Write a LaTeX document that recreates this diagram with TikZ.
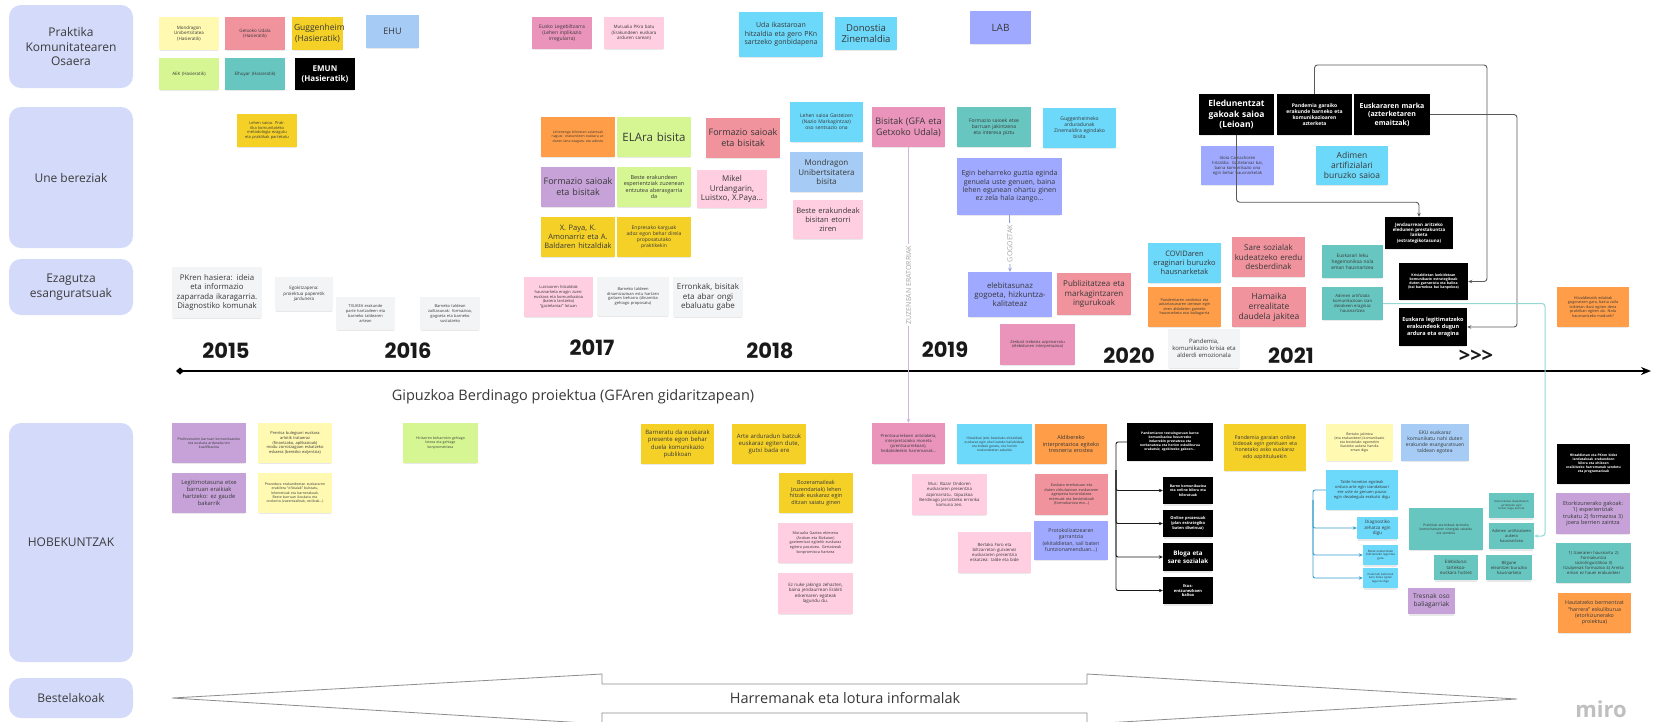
\documentclass[tikz,border=0pt]{standalone}
\usepackage{fontspec}
\setmainfont{Open Sans}
\newfontfamily\yearfont{Poppins}
\usetikzlibrary{shadows,arrows.meta}

\newcommand{\fs}[1]{\fontsize{#1pt}{\dimexpr#1pt*6/5\relax}\selectfont}

\definecolor{lanebg}{HTML}{D4DAFA}
\definecolor{lanetext}{HTML}{3C3C3C}
\definecolor{notetext}{HTML}{383838}
\definecolor{cLY}{HTML}{FFF9B1}
\definecolor{cY}{HTML}{F5D128}
\definecolor{cOr}{HTML}{FF9D48}
\definecolor{cLG}{HTML}{D5F692}
\definecolor{cTe}{HTML}{67C6C0}
\definecolor{cCy}{HTML}{6CD8FA}
\definecolor{cLB}{HTML}{A6CCF5}
\definecolor{cBl}{HTML}{9EA9FF}
\definecolor{cVi}{HTML}{C6A2D8}
\definecolor{cLP}{HTML}{FFCEE0}
\definecolor{cPk}{HTML}{EA94BB}
\definecolor{cRd}{HTML}{F0939D}
\definecolor{cGr}{HTML}{F3F4F6}

\begin{document}
\begin{tikzpicture}[x=1pt,y=-1pt,
    note/.style={inner sep=1pt,align=center,text=notetext,
        drop shadow={opacity=.18,shadow xshift=0pt,shadow yshift=-2pt,shadow scale=.97}},
    sz/.style n args={3}{minimum width=#1,minimum height=#2,text width=#1-4,font=\fs{#3}},
    blk/.style={note,fill=black,text=white,execute at begin node=\bfseries},
    lane/.style={fill=lanebg,rounded corners=12pt,text=lanetext,align=center,
        font=\fs{12},minimum width=124},
    year/.style={font=\yearfont\bfseries\fs{21},text=black!90},
    vlab/.style={fill=white,rotate=90,inner sep=1.5pt,font=\fs{7},text=black!35},
    gconn/.style={draw=black!65,line width=.9pt,rounded corners=3pt,-{Stealth[length=4pt,width=3.5pt]}},
    bconn/.style={draw=black!90,line width=.9pt,rounded corners=2pt,-{Stealth[length=4pt,width=3.5pt]}},
    blconn/.style={draw=blue!30!cyan!60!gray,line width=.9pt,rounded corners=2pt,-{Stealth[length=4pt,width=3.5pt]}},
    tconn/.style={draw=cTe!70,line width=1pt,rounded corners=3pt,-{Stealth[length=4pt,width=3.5pt]}}]

    \fill[white] (0,0) rectangle (1654,721);
    \useasboundingbox (0,0) rectangle (1654,721);

    % Lanes
    \node[lane,minimum height=83] (l1) at (71,46.5) {Praktika\\Komunitatearen\\Osaera};
    \node[lane,minimum height=141] (l2) at (71,177.5) {Une bereziak};
    \node[lane,minimum height=56] (l3) at (71,287) {Ezagutza\\esanguratsuak};
    \node[lane,minimum height=239] (l4) at (71,542.5) {HOBEKUNTZAK};
    \node[lane,minimum height=40] (l5) at (71,698) {Bestelakoak};

    % Timeline
    \coordinate (t0) at (176,371);
    \coordinate (t1) at (1651,371);
    \draw[line width=1.6pt,{Diamond[length=8pt,width=7pt]}-{Stealth[length=10pt,width=8pt]}] (t0) -- (t1);
    \node[year] (y15) at (226,351) {2015};
    \node[year] (y16) at (408,351) {2016};
    \node[year] (y17) at (592,348) {2017};
    \node[year] (y18) at (770,351) {2018};
    \node[year] (y19) at (945,350) {2019};
    \node[year] (y20) at (1129,356) {2020};
    \node[year] (y21) at (1291,356) {2021};
    \node[year,font=\bfseries\fs{20}] (ymore) at (1476,356) {>{}>{}>};
    \node[font=\fs{14.5},text=notetext] (gb) at (573,397) {Gipuzkoa Berdinago proiektua (GFAren gidaritzapean)};

    % Praktika komunitatearen osaera
    \node[note,fill=cLY,sz={60}{33}{4.5}] (n1) at (189,33.5) {Mondragon\\Unibertsitatea\\(Hasieratik)};
    \node[note,fill=cRd,sz={60}{33}{4.5}] (n2) at (255,33.5) {Getxoko Udala\\(Hasieratik)};
    \node[note,fill=cY,sz={51}{33}{8.5}] (n3) at (317.5,33.5) {Guggenheim\\(Hasieratik)};
    \node[note,fill=cLB,sz={53}{33}{9}] (n4) at (392.5,31.5) {EHU};
    \node[note,fill=cLG,sz={60}{32}{4.5}] (n5) at (189,74) {AEK (Hasieratik)};
    \node[note,fill=cTe,sz={60}{32}{4.5}] (n6) at (255,74) {Elhuyar (Hasieratik)};
    \node[blk,sz={60}{32}{8}] (n7) at (325,74) {EMUN\\(Hasieratik)};
    \node[note,fill=cPk,sz={60}{32}{5}] (n8) at (562,33) {Eusko Legebiltzarra\\(Lehen inplikazio\\irregularra)};
    \node[note,fill=cLP,sz={60}{32}{4.5}] (n9) at (634,33) {Mutualia PKra batu\\(Erakundeen euskara\\arduren sarean)};
    \node[note,fill=cCy,sz={84}{45}{7}] (n10) at (781,34.5) {Uda ikastaroan\\hitzaldia eta gero PKn\\sartzeko gonbidapena};
    \node[note,fill=cCy,sz={62}{33}{9.5}] (n11) at (866,33.5) {Donostia\\Zinemaldia};
    \node[note,fill=cBl,sz={61}{33}{10}] (n12) at (1000.5,27.5) {LAB};

    % Une bereziak
    \node[note,fill=cY,sz={60}{33}{4}] (n13) at (267,130.5) {Lehen saioa. Praktika komunitateko metodologia ezagutu eta praktikak partekatu};
    \node[note,fill=cOr,sz={74}{40}{3.5}] (n14) at (578,137) {Lehenengo bileretan zalantzak nagusi: erakundeen euskara arduren lana ezagutu eta adostu};
    \node[note,fill=cLG,sz={74}{40}{11.5}] (n15) at (654,137) {ELAra bisita};
    \node[note,fill=cRd,sz={74}{40}{9}] (n16) at (743,138) {Formazio saioak\\eta bisitak};
    \node[note,fill=cVi,sz={74}{40}{9}] (n17) at (578,187) {Formazio saioak\\eta bisitak};
    \node[note,fill=cLG,sz={74}{40}{5.5}] (n18) at (654,187) {Beste erakundeen\\esperientziak zuzenean\\entzutea aberasgarria\\da};
    \node[note,fill=cLP,sz={70}{38}{8}] (n19) at (732,189) {Mikel\\Urdangarin,\\Luistxo, X.Paya...};
    \node[note,fill=cY,sz={74}{40}{7.5}] (n20) at (578,237) {X. Paya, K.\\Amonarriz eta A.\\Baldaren hitzaldiak};
    \node[note,fill=cY,sz={74}{40}{5}] (n21) at (654,237) {Enpresako karguak\\adoz egon behar direla\\proposatutako\\praktikekin};
    \node[note,fill=cCy,sz={73}{40}{5}] (n22) at (826.5,122) {Lehen saioa Gasteizen\\(Nazio Markagintzaz)\\oso sentsazio ona};
    \node[note,fill=cLB,sz={73}{40}{8}] (n23) at (826.5,172) {Mondragon\\Unibertsitatera\\bisita};
    \node[note,fill=cLP,sz={70}{39}{7.5}] (n24) at (828,219.5) {Beste erakundeak\\bisitan etorri\\ziren};
    \node[note,fill=cPk,sz={73}{40}{9}] (n25) at (908.5,127) {Bisitak (GFA eta\\Getxoko Udala)};
    \node[note,fill=cTe,sz={74}{40}{5}] (n26) at (994,127) {Formazio saioek etxe\\barruan jakintzena\\eta interesa piztu};
    \node[note,fill=cCy,sz={73}{40}{5}] (n27) at (1079.5,128) {Guggenheimeko\\arduradunak\\Zinemaldira egindako\\bisita};
    \node[note,fill=cBl,sz={105}{57}{7}] (n28) at (1009.5,186.5) {Egin beharreko guztia eginda\\genuela uste genuen, baina\\lehen egunean ohartu ginen\\ez zela hala izango...};
    \node[blk,sz={75}{41}{8.5}] (n29) at (1236.5,114.5) {Eledunentzat\\gakoak saioa\\(Leioan)};
    \node[blk,sz={75}{41}{5}] (n30) at (1314.5,114.5) {Pandemia garaiko\\erakunde barneko eta\\komunikazioaren\\azterketa};
    \node[blk,sz={76}{41}{7}] (n31) at (1392,114.5) {Euskararen marka\\(azterketaren\\emaitzak)};
    \node[note,fill=cBl,sz={73}{39}{4.2}] (n32) at (1237.5,165.5) {Idoia Camachoren\\hitzaldia. Gaztelaniaz bai,\\baina komunikazio ona\\egin behar hausnarketak};
    \node[note,fill=cCy,sz={72}{39}{8.5}] (n33) at (1352,165.5) {Adimen\\artifizialari\\buruzko saioa};
    \node[blk,sz={68}{32}{4.5}] (n34) at (1419,233) {Jendaurrean aritzeko\\eledunen prestakuntza\\lanketa\\(estrategikotasuna)};
    \node[blk,sz={69}{37}{3.5}] (n35) at (1433.5,281.5) {Krisialdietan lankidetzan\\komunikazio estrategikoak\\duten garrantzia eta balioa\\(bai barnekoa bai kanpokoa)};
    \node[blk,sz={68}{38}{5.5}] (n36) at (1433,327) {Euskara legitimatzeko\\erakundeok dugun\\ardura eta eragina};

    % Ezagutza esanguratsuak
    \node[note,fill=cGr,sz={90}{51}{7.8}] (n37) at (217,292.5) {PKren hasiera: ideia\\eta informazio\\zaparrada ikaragarria.\\Diagnostiko komunak};
    \node[note,fill=cGr,sz={58}{34}{4.5}] (n38) at (304,294) {Egokitzapena:\\proiektua paperetik\\jardunera};
    \node[note,fill=cGr,sz={59}{33}{4}] (n39) at (365.5,313.5) {TXUKEA erakunde\\parte hartzaileen eta\\barneko taldearen\\artean};
    \node[note,fill=cGr,sz={60}{33}{4}] (n40) at (450,313.5) {Barneko taldean\\zailtasunak: formazioa,\\gogoeta eta barneko\\sustatzeko};
    \node[note,fill=cLP,sz={69}{40}{4}] (n41) at (558.5,297) {Luistxoren hitzaldiak\\hausnarketa eragin zuen:\\euskara eta komunikazioa\\(batera lantzeko)\\"gaztelaniaz" lotuan};
    \node[note,fill=cGr,sz={72}{39}{4}] (n42) at (633,296.5) {Barneko taldeen\\dinamizazioan estu hartzen\\gaituen beharra (dinamika\\gehiago proposatu)};
    \node[note,fill=cGr,sz={70}{40}{8}] (n43) at (708,297) {Erronkak, bisitak\\eta abar ongi\\ebaluatu gabe};
    \node[note,fill=cBl,sz={84}{45}{7.8}] (n46) at (1010,294.5) {elebitasunaz\\gogoeta, hizkuntza-\\kalitateaz};
    \node[note,fill=cRd,sz={74}{42}{8}] (n47) at (1094,294) {Publizitatzea eta\\markagintzaren\\ingurukoak};
    \node[note,fill=cPk,sz={75}{41}{4}] (n48) at (1037.5,344.5) {Zenbait trebezia azpimarratu\\(elebidunen interpretazioa)};
    \node[note,fill=cCy,sz={73}{40}{7.5}] (n49) at (1184.5,263) {COVIDaren\\eraginari buruzko\\hausnarketak};
    \node[note,fill=cOr,sz={73}{40}{3.8}] (n50) at (1184.5,307) {Pandemiaren ondorioz eta\\azkartasunaren izenean egin\\ziren aldaketen gaineko\\hausnarketa oso baliagarria};
    \node[note,fill=cGr,sz={72}{39}{6}] (n51) at (1204,348.5) {Pandemia,\\komunikazio krisia eta\\alderdi emozionala};
    \node[note,fill=cRd,sz={73}{40}{8}] (n52) at (1268.5,257) {Sare sozialak\\kudeatzeko eredu\\desberdinak};
    \node[note,fill=cRd,sz={74}{40}{8.5}] (n53) at (1269,307) {Hamaika\\errealitate\\daudela jakitea};
    \node[note,fill=cTe,sz={61}{33}{4.8}] (n54) at (1352.5,261.5) {Euskarari leku\\hegemonikoa nola\\eman hausnartzea};
    \node[note,fill=cTe,sz={61}{33}{4.2}] (n55) at (1352.5,303.5) {Adimen artifiziala\\komunikazioan izan\\dezakeen eraginaz\\hausnartzea};
    \node[note,fill=cOr,sz={72}{40}{3.8}] (n56) at (1593,307) {Hitzaldietatik edukiak\\gogoratzen gara, baina zaila\\txikietan ikusi egiten dena\\praktikan egiten da. Nola\\hausnartzeko modurik?};

    % Hobekuntzak
    \node[note,fill=cVi,sz={74}{40}{3.5}] (n57) at (209,443) {Profesionalen barruan komunikazioko\\eta euskara arduradunen\\kualifikazioa};
    \node[note,fill=cLY,sz={74}{40}{4}] (n58) at (295,443) {Prentsa bulegoari euskara\\arlotik trataeraz\\(finantzako, aplikazioak)\\modu zorrotzagoan eskatzeko\\eskaera (berezko exijentzia)};
    \node[note,fill=cVi,sz={74}{40}{5.8}] (n59) at (209,493) {Legitimotasuna etxe\\barruan eraikiak\\hartzeko: ez gaude\\bakarrik};
    \node[note,fill=cLY,sz={74}{40}{3.5}] (n60) at (295,493) {Prozedura erakundeetan euskararen\\erabilera "ofizialak" bultzatu,\\lehenetsiak eta barnerakoak.\\Beste barruan ikuskatu eta\\orokortu (zuzentzaileak, estiloak...)};
    \node[note,fill=cLG,sz={75}{40}{3.5}] (n61) at (440.5,443) {Hiritarren beharrekin gehiago\\lotzea eta gehiago\\konprometitzea};
    \node[note,fill=cY,sz={73}{40}{6}] (n62) at (677.5,444) {Barneratu da euskarak\\presente egon behar\\duela komunikazio\\publikoan};
    \node[note,fill=cY,sz={74}{40}{6}] (n63) at (769,444) {Arte arduradun batzuk\\euskaraz egiten dute,\\gutxi bada ere};
    \node[note,fill=cY,sz={74}{40}{5.5}] (n64) at (816,493) {Bozeramaileak\\(zuzendariak) lehen\\hitzak euskaraz egin\\ditzan saiatu ginen};
    \node[note,fill=cLP,sz={75}{40}{3.8}] (n65) at (815.5,543) {Mutualia Gaztea ekimena\\(Araban eta Bizkaian)\\gazteentzat egitetik euskaraz\\egitera pasatzea. Gertatzeak\\konpromisoa hartzea};
    \node[note,fill=cLP,sz={75}{41}{4.5}] (n66) at (815.5,593.5) {Ez nuke jakingo zehazten,\\baina jendaurrean Erakiti\\eskemaren egoteak\\lagundu du.};
    \node[note,fill=cPk,sz={73}{41}{4.2}] (n67) at (908.5,443.5) {Prentsaurrekoen antolaketa,\\interpretazioko moneta\\(prentsaurrekoan),\\hedabideekin harremanak...};
    \node[note,fill=cCy,sz={75}{40}{3.3}] (n68) at (994.5,444) {Hitzaldiak (edo bestelako ekitaldiak)\\euskaraz egin ahal izateko baliabideak\\eta bideak garatu, eta horiek\\erakundeetan zabaldu};
    \node[note,fill=cOr,sz={72}{40}{5.5}] (n69) at (1071,444) {Aldibereko\\interpretazioa egiteko\\tresneria erostea};
    \node[note,fill=cLP,sz={75}{41}{4.3}] (n70) at (949.5,494.5) {Mus: Bazar Ondoren\\euskararen presentzia\\azpimarratu. Gipuzkoa\\Berdinago jarraitzeko erronka\\komuna zen.};
    \node[note,fill=cRd,sz={73}{41}{3.8}] (n71) at (1071.5,494.5) {Euskara merkatuan eta\\duten zirkulazioan euskararen\\agerpena kontrolatzea\\eremuak eta bestelakoak\\(formakuntza eta...)};
    \node[note,fill=cLP,sz={73}{41}{4.3}] (n72) at (994.5,552.5) {Bertako Foro eta\\biltzarretan gutxienez\\euskararen presentzia\\eskatzea: talde eta bide};
    \node[note,fill=cBl,sz={74}{39}{5.2}] (n73) at (1071,540.5) {Protokolizatzearen\\garrantzia\\(ekitaldietan, sail baten\\funtzionamenduan...)};
    \node[blk,sz={86}{38}{3.3}] (n74) at (1170,442) {Pandemiaren testuinguruan barne\\komunikazioa hezurrezko\\indarrekin prestatzea eta\\norbanatzea eta horien eskuliburua\\erakutsiz, egokitzeko gakoen...};
    \node[blk,sz={50}{27}{3.5}] (n75) at (1188,490.5) {Barne komunikazioa\\eta online bilera eta\\bileratuak};
    \node[blk,sz={50}{27}{4}] (n76) at (1188,523.5) {Online prozesuak\\(plan estrategiko\\baten diseinua)};
    \node[blk,sz={50}{28}{6.2}] (n77) at (1188,557) {Bloga eta\\sare sozialak};
    \node[blk,sz={50}{27}{4}] (n78) at (1188,590.5) {Ikus-\\entzunezkoen\\balioa};
    \node[note,fill=cY,sz={82}{47}{5.2}] (n79) at (1265,447.5) {Pandemia garaian online\\bideoak egin genituen eta\\honetako asko euskaraz\\edo azpitituluekin};
    \node[note,fill=cLY,sz={67}{37}{3.5}] (n80) at (1359.5,442.5) {Bertako jakintza\\(eta erakundeen) komunikazio\\eta bestelako egoerekin\\ikasteko aukera handia\\eman digu};
    \node[note,fill=cLB,sz={68}{37}{5}] (n81) at (1435,442.5) {EKU euskaraz\\komunikatu nahi duten\\erakunde esanguratsuen\\taldean egotea};
    \node[note,fill=cCy,sz={72}{40}{4}] (n82) at (1362,490) {Talde honetan egoteak\\ordura arte egin izandakoari\\ere uste ez genuen pauso\\egin dezakegula erakutsi digu};
    \node[note,fill=cCy,sz={41}{22}{4.5}] (n83) at (1377.5,528) {Diagnostiko\\zehatza egin\\digu};
    \node[note,fill=cCy,sz={35}{20}{3}] (n84) at (1380.5,555) {Beste erakundeak\\bultzatzeko laguntza\\gara};
    \node[note,fill=cCy,sz={35}{20}{2.8}] (n85) at (1380.5,578) {Erakunde bakoitzak\\bere bidea egiten\\lagundu digu};
    \node[note,fill=cTe,sz={74}{42}{3.3}] (n86) at (1446,529) {Praktikak eta bideak lantzeko\\komunitatearen sinergiak zabaldu\\eta sendotu};
    \node[note,fill=cTe,sz={45}{25}{2.8}] (n87) at (1511.5,505.5) {Komunitatea ikaspideetan\\jarraitzeko egin\\behar dugu aurrera};
    \node[note,fill=cTe,sz={45}{26}{4}] (n88) at (1511.5,536) {Adimen artifizialaren\\aukera\\hausnartzea};
    \node[note,fill=cTe,sz={44}{25}{4.5}] (n89) at (1456,567.5) {Elebiduna:\\tartekoa-\\euskara hutsez};
    \node[note,fill=cTe,sz={46}{25}{4.2}] (n90) at (1509,567.5) {Bilgune\\eleanitzei buruzko\\hausnarketa};
    \node[note,fill=cVi,sz={47}{26}{6.5}] (n91) at (1431.5,601) {Tresnak oso\\baliagarriak};
    \node[blk,sz={73}{40}{3.3}] (n92) at (1593.5,464) {Hitzaldietan eta PKren bidez\\landutakoak erakundeen\\bilera eta ohikoen\\eraikitzeko harremanak sendotu\\eta programazioak};
    \node[note,fill=cVi,sz={74}{41}{5.5}] (n93) at (1593,513.5) {Etorkizunerako gakoak:\\1) esperientziak\\trukatu 2) formazioa 3)\\joera berrien zaintza};
    \node[note,fill=cTe,sz={75}{40}{4.2}] (n94) at (1593.5,563) {1) Izaeraren hausnartu 2)\\Formakuntza\\soziolinguistikoa 3)\\Itzulpenak formazioa 4) Arreta\\eman ez hauei erakundeei};
    \node[note,fill=cOr,sz={73}{40}{5.3}] (n95) at (1594.5,613) {Hautatzeko bermentzat\\``harrera'' eskuliburua\\(etorkizunerako\\proiektua)};

    % Bestelakoak
    \draw[black!45,line width=.8pt] (172,698) -- (602,674) -- (602,684) -- (1087,684) -- (1087,674)
        -- (1517,699) -- (1087,724) -- (1087,713) -- (602,713) -- (602,724) -- cycle;
    \node[font=\fs{14.5},text=notetext] (hl) at (845,698) {Harremanak eta lotura informalak};
    \node[font=\bfseries\fs{22},text=black!25,anchor=base] (miro) at (1601,717) {miro};

    % Connectors
    \draw[draw=cVi!80,line width=.9pt,-{Stealth[length=4pt,width=3.5pt]}] (n25.south) -- node[vlab] {ZUZENEAN ERATORRIAK} (n67.north);
    \draw[draw=cBl!70!gray,line width=.9pt,-{Stealth[length=4pt,width=3.5pt]}] (n28.south) -- node[vlab] {GOGOETAK} (n46.north);

    \coordinate (b1) at (1487,65);
    \coordinate (b2) at (1517,200);
    \coordinate (b3) at (1545,400);
    \coordinate (b4) at (1116,470);
    \coordinate (b5) at (1313,500);
    \draw[gconn] (n29.south) -- ++(0,67) -| (n34.north);
    \draw[gconn] (n30.north) |- (b1) |- (n35.east);
    \draw[gconn] (n31.east) -| (b2) |- (n36.east);
    \draw[tconn] (n55.east) -| (b3) |- (n88.east);
    \draw[bconn] (n74.west) -| (b4) |- (n75.west);
    \draw[bconn] (b4) |- (n76.west);
    \draw[bconn] (b4) |- (n77.west);
    \draw[bconn] (b4) |- (n78.west);
    \draw[blconn] (n82.west) -| (b5) |- (n83.west);
    \draw[blconn] (b5) |- (n84.west);
    \draw[blconn] (b5) |- (n85.west);

\end{tikzpicture}
\end{document}
